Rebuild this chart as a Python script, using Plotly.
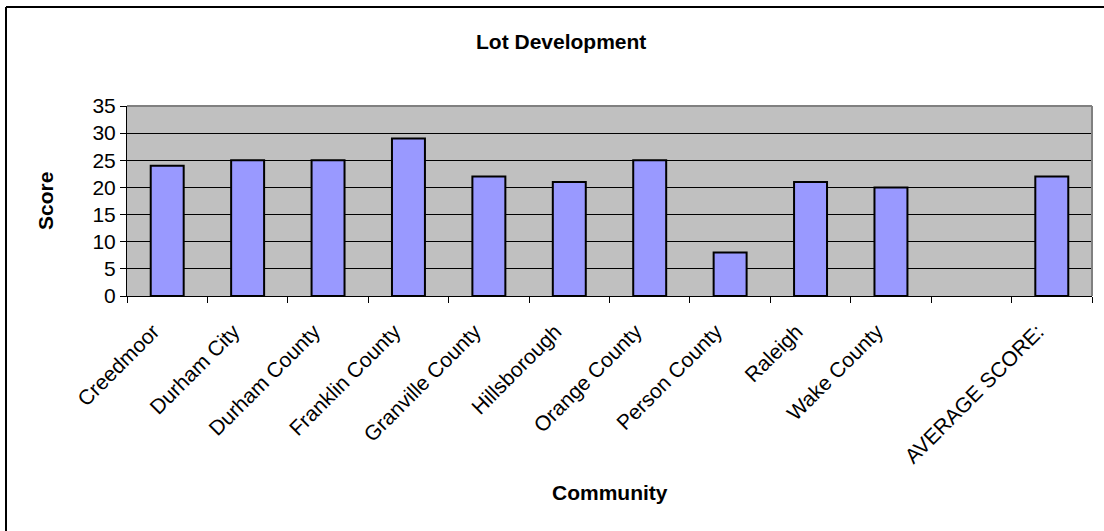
import plotly.graph_objects as go

communities = ["Creedmoor", "Durham City", "Durham County", "Franklin County",
               "Granville County", "Hillsborough", "Orange County", "Person County",
               "Raleigh", "Wake County", " ", "AVERAGE SCORE:"]
scores = [24, 25, 25, 29, 22, 21, 25, 8, 21, 20, None, 22]
y_ticks = [0, 5, 10, 15, 20, 25, 30, 35]

W, H = 1104, 531
L, R, T, B = 127, 1092, 106, 296
pw, ph = R - L, B - T

def px(x):
    return (x - L) / pw

def py(y):
    return (B - y) / ph

FONT = "Liberation Sans, Arial, sans-serif"
TICK_SIZE = 21
TITLE_SIZE = 21

fig = go.Figure(go.Bar(
    x=communities, y=scores,
    marker=dict(color="#9999FF", line=dict(color="#000000", width=2)),
    hoverinfo="skip",
))

fig.update_layout(
    width=W, height=H,
    margin=dict(l=L, r=W - R, t=T, b=H - B, pad=0),
    paper_bgcolor="#FFFFFF",
    plot_bgcolor="#C0C0C0",
    bargap=0.59,
    showlegend=False,
    font=dict(family=FONT, color="#000000", size=TICK_SIZE),
    xaxis=dict(
        type="category", tickson="boundaries", ticks="outside", ticklen=6,
        tickcolor="#000000", tickwidth=1, tickangle=-45,
        ticklabelshift=-14, ticklabelstandoff=14,
        showline=True, linecolor="#000000", linewidth=1,
        showgrid=False, tickfont=dict(size=TICK_SIZE, family=FONT),
    ),
    yaxis=dict(
        range=[0, 35], tickvals=y_ticks, ticks="outside", ticklen=6,
        tickcolor="#000000", tickwidth=1,
        showline=True, linecolor="#000000", linewidth=1,
        showgrid=True, gridcolor="#000000", gridwidth=1,
        zeroline=False, tickfont=dict(size=TICK_SIZE, family=FONT),
    ),
    shapes=[
        dict(type="line", xref="paper", yref="paper", x0=0, x1=1, y0=1, y1=1,
             line=dict(color="#808080", width=2), layer="above"),
        dict(type="line", xref="paper", yref="paper", x0=1, x1=1, y0=0, y1=1,
             line=dict(color="#808080", width=2), layer="above"),
        dict(type="line", xref="paper", yref="paper", x0=px(6), x1=px(1110),
             y0=py(7), y1=py(7), line=dict(color="#000000", width=2)),
        dict(type="line", xref="paper", yref="paper", x0=px(6), x1=px(6),
             y0=py(7), y1=py(540), line=dict(color="#000000", width=2)),
    ],
    annotations=[
        dict(text="<b>Lot Development</b>", xref="paper", yref="paper",
             x=px(561), y=py(41), showarrow=False, xanchor="center", yanchor="middle",
             font=dict(size=TITLE_SIZE, family=FONT)),
        dict(text="<b>Score</b>", xref="paper", yref="paper", textangle=-90,
             x=px(45), y=py(201), showarrow=False, xanchor="center", yanchor="middle",
             font=dict(size=TITLE_SIZE, family=FONT)),
        dict(text="<b>Community</b>", xref="paper", yref="paper",
             x=px(610), y=py(492), showarrow=False, xanchor="center", yanchor="middle",
             font=dict(size=TITLE_SIZE, family=FONT)),
    ],
)

fig.write_html("out.html", config={"displayModeBar": False})
